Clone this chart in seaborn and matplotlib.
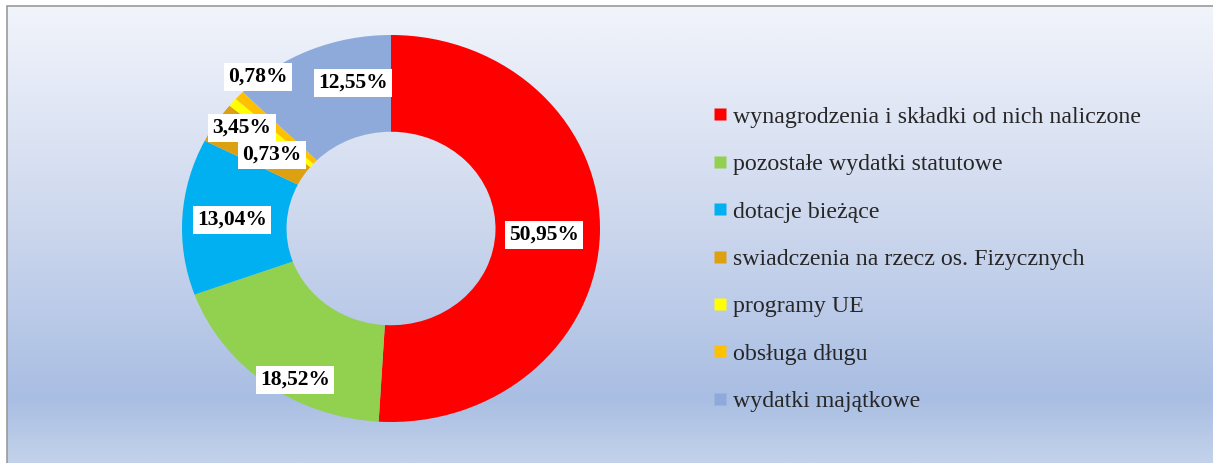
import numpy as np
import matplotlib
matplotlib.use("Agg")
import matplotlib.pyplot as plt
from matplotlib.colors import LinearSegmentedColormap
from matplotlib.lines import Line2D
from matplotlib.patches import Rectangle
import seaborn as sns

# ---- data ----
categories = [
    "wynagrodzenia i składki od nich naliczone",
    "pozostałe wydatki statutowe",
    "dotacje bieżące",
    "swiadczenia na rzecz os. Fizycznych",
    "programy UE",
    "obsługa długu",
    "wydatki majątkowe",
]
values = [50.95, 18.52, 13.04, 3.45, 0.73, 0.78, 12.55]
value_labels = ["50,95%", "18,52%", "13,04%", "3,45%", "0,73%", "0,78%", "12,55%"]
colors = ["#ff0000", "#92d050", "#00b0f0", "#dda010", "#ffff00", "#ffc000", "#8eaadb"]

# label anchor points (data units of the ring axes)
label_pos = [(0.732, -0.034), (-0.459, -0.783), (-0.761, 0.044),
             (-0.713, 0.519), (-0.569, 0.380), (-0.636, 0.783), (-0.182, 0.752)]

sns.set_theme(style="white")
plt.rcParams["font.family"] = ["Liberation Serif", "DejaVu Serif"]

W, H = 1213, 463
fig = plt.figure(figsize=(W / 100, H / 100), dpi=100)
fig.patch.set_facecolor("white")

# background gradient panel
bg = fig.add_axes([0, 0, 1, 1], zorder=0)
bg.set_axis_off()
cmap = LinearSegmentedColormap.from_list(
    "bg", [(0.0, "#f1f4fb"), (0.45, "#cfd9ee"), (0.86, "#a9bee3"), (1.0, "#c3d2ea")])
grad = np.linspace(0, 1, 400).reshape(-1, 1)
x0 = 7 / W
y_top = 1 - 6 / H
bg.set_xlim(0, 1)
bg.set_ylim(0, 1)
bg.imshow(grad, aspect="auto", cmap=cmap, extent=[x0, 1, 0, y_top], origin="upper", zorder=0)
bg.add_patch(Rectangle((x0, -0.01), 1.2, y_top + 0.01, fill=False, edgecolor="#9a9a9a", lw=1.2, zorder=2))

# donut
cx, cy, rx, ry = 391, 228.5, 209, 193.5
ax = fig.add_axes([(cx - rx) / W, (H - cy - ry) / H, 2 * rx / W, 2 * ry / H], zorder=1)
ax.patch.set_alpha(0)
wedges, _ = ax.pie(values, colors=colors, startangle=90, counterclock=False, radius=1.0,
                   wedgeprops=dict(width=0.5, edgecolor="none"))
ax.set_aspect("auto")
ax.set_xlim(-1, 1)
ax.set_ylim(-1, 1)
ax.set_axis_off()

for (lx, ly), txt in zip(label_pos, value_labels):
    ax.text(lx, ly, txt, ha="center", va="center", fontsize=15.5, fontweight="bold",
            color="black",
            bbox=dict(boxstyle="square,pad=0.2", facecolor="white", edgecolor="none"))

# legend
handles = [Line2D([0], [0], marker="s", linestyle="none", markersize=8,
                  markerfacecolor=c, markeredgecolor="none") for c in colors]
leg = fig.legend(handles, categories, loc="upper left",
                 bbox_to_anchor=(713 / W, 1 - 106 / H), frameon=False,
                 fontsize=17.2, labelspacing=1.075, handlelength=0.6,
                 handletextpad=0.25, borderpad=0, borderaxespad=0)

fig.savefig("out.png", dpi=100)
